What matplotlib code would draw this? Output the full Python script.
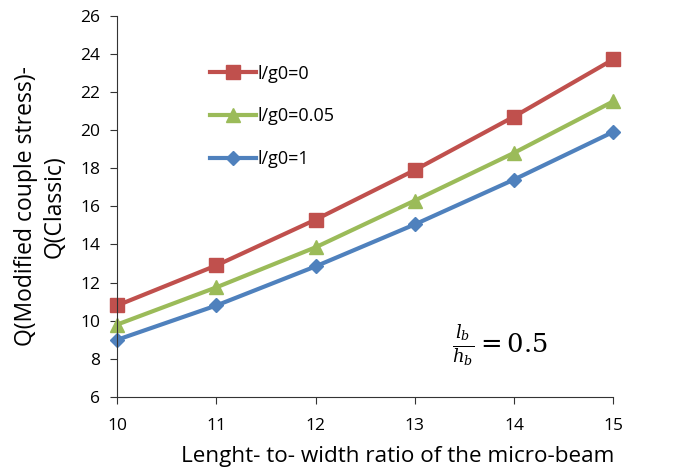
import matplotlib.pyplot as plt

plt.rcParams["font.family"] = ["Open Sans", "DejaVu Sans"]
plt.rcParams["mathtext.fontset"] = "dejavuserif"

ratio = [10, 11, 12, 13, 14, 15]
q_0 = [10.8, 12.9, 15.3, 17.9, 20.7, 23.7]
q_005 = [9.8, 11.75, 13.85, 16.3, 18.8, 21.5]
q_1 = [9.0, 10.8, 12.85, 15.05, 17.4, 19.9]

fig = plt.figure(figsize=(6.89, 4.71), dpi=100)
ax = fig.add_axes([0.17, 0.157, 0.72, 0.81])

ax.plot(ratio, q_0, color="#C0504D", lw=3, marker="s", ms=10, label="l/g0=0", clip_on=False)
ax.plot(ratio, q_005, color="#9BBB59", lw=3, marker="^", ms=10, label="l/g0=0.05", clip_on=False)
ax.plot(ratio, q_1, color="#4F81BD", lw=3, marker="D", ms=7, label="l/g0=1", clip_on=False)

ax.set_xlim(10, 15)
ax.set_ylim(6, 26)
ax.set_yticks(range(6, 27, 2))
ax.set_xticks(ratio)
ax.spines["top"].set_visible(False)
ax.spines["right"].set_visible(False)
ax.spines["left"].set_color("#333333")
ax.spines["bottom"].set_color("#333333")
ax.tick_params(labelsize=12.5, length=5, color="#333333")
ax.tick_params(axis="x", pad=10)
ax.tick_params(axis="y", pad=7)

ax.set_xlabel("Lenght- to- width ratio of the micro-beam", fontsize=16.2, labelpad=9)
ax.xaxis.label.set_x(0.565)
ax.set_ylabel("Q(Modified couple stress)-\nQ(Classic)", fontsize=16.5, labelpad=10,
              linespacing=1.25)

ax.legend(loc="upper left", bbox_to_anchor=(0.17, 0.895), frameon=False, fontsize=13,
          handlelength=2.5, labelspacing=1.37, handletextpad=0.1, borderpad=0)

ax.text(13.38, 8.3, r"$\frac{l_b}{h_b} = 0.5$", fontsize=18.5)

fig.savefig("out.png", dpi=100)
